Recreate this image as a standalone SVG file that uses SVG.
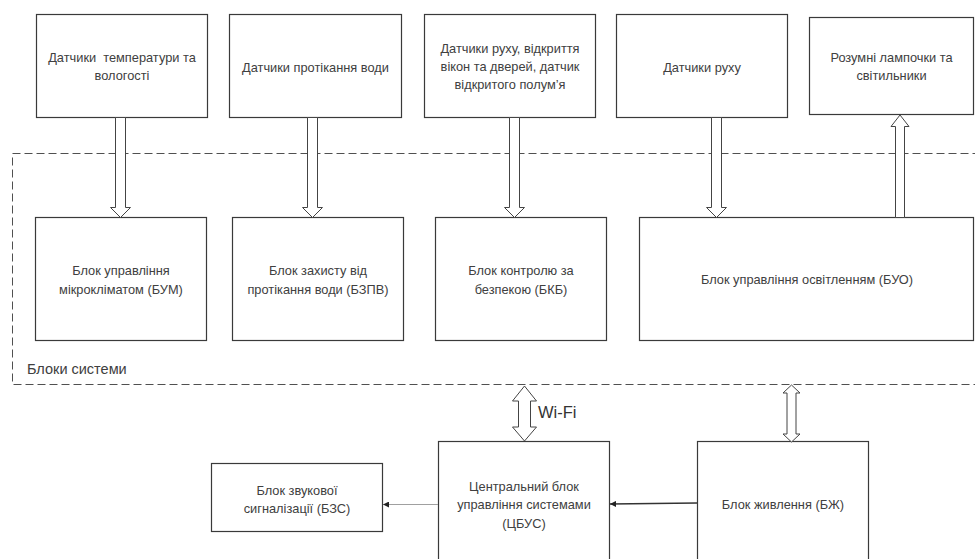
<svg xmlns="http://www.w3.org/2000/svg" width="975" height="559" viewBox="0 0 975 559">
  <style>
    .box { fill: #ffffff; stroke: #3a3a3a; stroke-width: 1.2; }
    .lbl { font-family: "Liberation Sans", Arial, sans-serif; font-size: 12.8px; fill: #404040; text-anchor: middle; }
    .pre { white-space: pre; }
    .frame { fill: none; stroke: #505050; stroke-width: 1; stroke-dasharray: 8 4; }
    .blk { fill: #ffffff; stroke: #444444; stroke-width: 1; stroke-linejoin: miter; }
    .wire-dark { stroke: #333333; stroke-width: 1.6; fill: none; }
    .wire-grey { stroke: #a0a0a0; stroke-width: 1; fill: none; }
  </style>
  <defs>
    <marker id="tip" viewBox="0 0 10 10" refX="10" refY="5" markerWidth="6" markerHeight="6" markerUnits="userSpaceOnUse" orient="auto">
      <path d="M0,0 L10,5 L0,10 z" fill="#222222"/>
    </marker>
  </defs>

  <rect width="975" height="559" fill="#ffffff"/>

  <!-- system blocks boundary -->
  <g id="system-frame">
    <rect class="frame" x="12.5" y="153.5" width="975" height="231"/>
    <text x="27" y="374" font-family="Liberation Sans, Arial, sans-serif" font-size="14.5" fill="#404040">Блоки системи</text>
  </g>

  <!-- sensors and lamps -->
  <g id="sensor-climate">
    <rect class="box" x="36.5" y="14.5" width="171" height="103"/>
    <text class="lbl pre" x="122" y="62">Датчики  температури та</text>
    <text class="lbl" x="122" y="80">вологості</text>
  </g>
  <g id="sensor-leak">
    <rect class="box" x="229.5" y="14.5" width="172" height="103"/>
    <text class="lbl" x="315.5" y="72">Датчики протікання води</text>
  </g>
  <g id="sensor-security">
    <rect class="box" x="424.5" y="14.5" width="171" height="103"/>
    <text class="lbl" x="510" y="53">Датчики руху, відкриття</text>
    <text class="lbl" x="510" y="71">вікон та дверей, датчик</text>
    <text class="lbl" x="510" y="89">відкритого полум’я</text>
  </g>
  <g id="sensor-motion">
    <rect class="box" x="616.5" y="14.5" width="171" height="103"/>
    <text class="lbl" x="702" y="72">Датчики руху</text>
  </g>
  <g id="smart-lamps">
    <rect class="box" x="809.5" y="17.5" width="164" height="97"/>
    <text class="lbl" x="891.5" y="62">Розумні лампочки та</text>
    <text class="lbl" x="891.5" y="80">світильники</text>
  </g>

  <!-- control blocks -->
  <g id="bum">
    <rect class="box" x="35.5" y="217.5" width="171" height="123"/>
    <text class="lbl" x="121" y="275">Блок управління</text>
    <text class="lbl" x="121" y="294">мікрокліматом (БУМ)</text>
  </g>
  <g id="bzpv">
    <rect class="box" x="232.5" y="217.5" width="171" height="123"/>
    <text class="lbl" x="318" y="275">Блок захисту від</text>
    <text class="lbl" x="318" y="294">протікання води (БЗПВ)</text>
  </g>
  <g id="bkb">
    <rect class="box" x="435.5" y="217.5" width="171" height="123"/>
    <text class="lbl" x="521" y="275">Блок контролю за</text>
    <text class="lbl" x="521" y="294">безпекою (БКБ)</text>
  </g>
  <g id="buo">
    <rect class="box" x="639.5" y="217.5" width="334" height="123"/>
    <text class="lbl" x="807" y="284">Блок управління освітленням (БУО)</text>
  </g>

  <!-- lower level -->
  <g id="bzs">
    <rect class="box" x="211.5" y="463.5" width="171" height="68"/>
    <text class="lbl" x="297" y="495">Блок звукової</text>
    <text class="lbl" x="297" y="513">сигналізації (БЗС)</text>
  </g>
  <g id="cbus">
    <rect class="box" x="438.5" y="441.5" width="171" height="130"/>
    <text class="lbl" x="524" y="491">Центральний блок</text>
    <text class="lbl" x="524" y="509">управління системами</text>
    <text class="lbl" x="524" y="528">(ЦБУС)</text>
  </g>
  <g id="bzh">
    <rect class="box" x="697.5" y="441.5" width="171" height="130"/>
    <text class="lbl" x="783" y="509">Блок живлення (БЖ)</text>
  </g>

  <!-- connectors -->
  <g id="connectors">
    <!-- hollow block arrows from sensors down to blocks -->
    <path class="blk" d="M115.5,117.5 H125.5 V207.5 H130.5 L120.5,217.5 L110.5,207.5 H115.5 Z"/>
    <path class="blk" d="M307.5,117.5 H317.5 V207.5 H322.5 L312.5,217.5 L302.5,207.5 H307.5 Z"/>
    <path class="blk" d="M509.5,117.5 H519.5 V207.5 H524.5 L514.5,217.5 L504.5,207.5 H509.5 Z"/>
    <path class="blk" d="M711.5,117.5 H721.5 V207.5 H726.5 L716.5,217.5 L706.5,207.5 H711.5 Z"/>
    <!-- lighting block up to lamps -->
    <path class="blk" d="M895.5,217.5 V126.5 H891 L900,115 L909,126.5 H904.5 V217.5 Z"/>
    <!-- Wi-Fi link -->
    <path class="blk" d="M524.5,386 L536.5,401 H530.5 V427 H536.5 L524.5,441 L512.5,427 H518.5 V401 H512.5 Z"/>
    <text x="538" y="418" font-family="Liberation Sans, Arial, sans-serif" font-size="16.5" fill="#333333">Wi-Fi</text>
    <!-- power link -->
    <path class="blk" d="M791.5,385 L800,393 H796 V434 H800 L791.5,442 L783,434 H787 V393 H783 Z"/>
    <!-- power supply to central unit -->
    <line class="wire-dark" x1="697" y1="503" x2="610" y2="504" marker-end="url(#tip)"/>
    <!-- central unit to sound alarm -->
    <line class="wire-grey" x1="438" y1="504.5" x2="383" y2="504.5" marker-end="url(#tip)"/>
  </g>
</svg>
